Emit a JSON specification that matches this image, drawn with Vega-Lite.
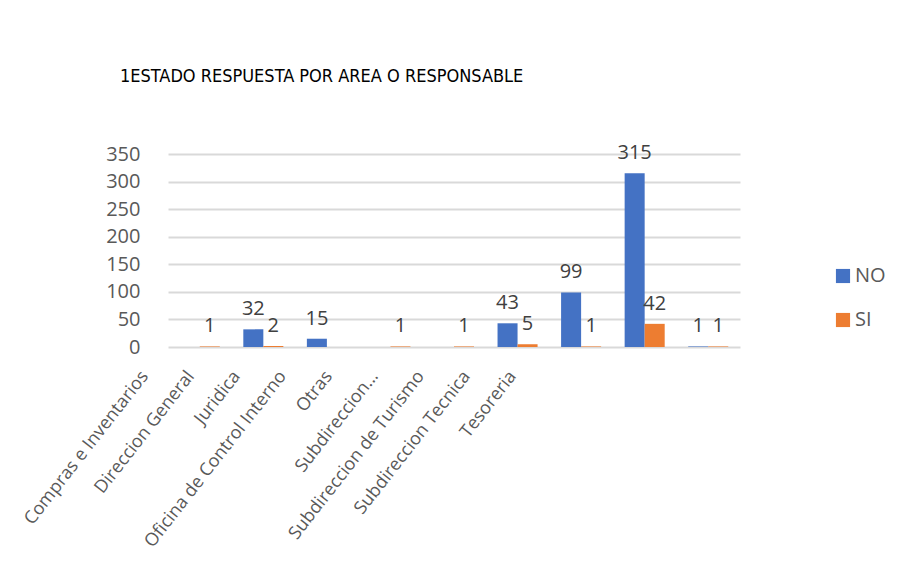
{
  "$schema": "https://vega.github.io/schema/vega-lite/v6.json",
  "width": 572,
  "height": 193,
  "autosize": {"type": "none"},
  "padding": {"left": 168, "top": 154, "right": 157, "bottom": 240},
  "background": "white",
  "title": {
    "text": "1ESTADO RESPUESTA POR AREA O RESPONSABLE",
    "anchor": "start",
    "frame": "group",
    "dx": -48,
    "offset": 57,
    "font": "DejaVu Sans Condensed, Liberation Sans Narrow, sans-serif",
    "fontSize": 18,
    "fontWeight": "normal",
    "color": "#000000"
  },
  "config": {
    "view": {"stroke": null},
    "font": "Open Sans"
  },
  "data": {
    "values": [
      {"area": "Compras e Inventarios", "respuesta": "SI", "cantidad": 1},
      {"area": "Direccion General", "respuesta": "NO", "cantidad": 32},
      {"area": "Direccion General", "respuesta": "SI", "cantidad": 2},
      {"area": "Juridica", "respuesta": "NO", "cantidad": 15},
      {"area": "Oficina de Control Interno", "respuesta": "SI", "cantidad": 1},
      {"area": "Otras", "respuesta": "SI", "cantidad": 1},
      {"area": "Subdireccion…", "respuesta": "NO", "cantidad": 43},
      {"area": "Subdireccion…", "respuesta": "SI", "cantidad": 5},
      {"area": "Subdireccion de Turismo", "respuesta": "NO", "cantidad": 99},
      {"area": "Subdireccion de Turismo", "respuesta": "SI", "cantidad": 1},
      {"area": "Subdireccion Tecnica", "respuesta": "NO", "cantidad": 315},
      {"area": "Subdireccion Tecnica", "respuesta": "SI", "cantidad": 42},
      {"area": "Tesoreria", "respuesta": "NO", "cantidad": 1},
      {"area": "Tesoreria", "respuesta": "SI", "cantidad": 1}
    ]
  },
  "layer": [
    {
      "encoding": {
        "x": {
          "field": "area",
          "type": "nominal",
          "sort": null,
          "scale": {"paddingInner": 0.37, "paddingOuter": 0.185},
          "axis": null
        },
        "xOffset": {
          "field": "respuesta",
          "type": "nominal",
          "scale": {"domain": ["NO", "SI"], "paddingInner": 0, "paddingOuter": 0}
        },
        "y": {
          "field": "cantidad",
          "type": "quantitative",
          "scale": {"domain": [0, 350], "nice": false},
          "axis": {
            "title": null,
            "values": [0, 50, 100, 150, 200, 250, 300, 350],
            "domain": false,
            "ticks": false,
            "labelPadding": 28,
            "labelFontSize": 20,
            "labelColor": "#595959",
            "gridColor": "#D9D9D9",
            "gridWidth": 2
          }
        }
      },
      "layer": [
        {
          "mark": {"type": "bar"},
          "encoding": {
            "color": {
              "field": "respuesta",
              "type": "nominal",
              "scale": {"domain": ["NO", "SI"], "range": ["#4472C4", "#ED7D31"]},
              "legend": {
                "title": null,
                "orient": "none",
                "legendX": 665,
                "legendY": 112,
                "symbolType": "square",
                "symbolSize": 200,
                "symbolStrokeWidth": 0,
                "labelFontSize": 20,
                "labelColor": "#595959",
                "rowPadding": 24,
                "labelOffset": 2
              }
            }
          }
        },
        {
          "mark": {"type": "text", "dy": -20, "baseline": "middle", "fontSize": 20, "color": "#404040"},
          "encoding": {
            "text": {"field": "cantidad", "type": "quantitative"}
          }
        }
      ]
    },
    {
      "mark": {"type": "bar", "opacity": 0},
      "encoding": {
        "x": {
          "field": "area",
          "type": "nominal",
          "sort": null,
          "scale": {
            "type": "band",
            "domain": [
              "Compras e Inventarios", "Direccion General", "Juridica",
              "Oficina de Control Interno", "Otras", "Subdireccion…",
              "Subdireccion de Turismo", "Subdireccion Tecnica", "Tesoreria",
              " ", "  ", "   "
            ],
            "paddingInner": 0,
            "paddingOuter": 0.217,
            "align": 0
          },
          "axis": {
            "title": null,
            "orient": "bottom",
            "labelAngle": -52,
            "labelOffset": -46,
            "labelPadding": 26,
            "labelFontSize": 18,
            "labelColor": "#595959",
            "labelLimit": 300,
            "domain": false,
            "ticks": false,
            "grid": false
          }
        }
      }
    }
  ],
  "resolve": {"scale": {"x": "independent"}, "axis": {"x": "independent"}}
}
